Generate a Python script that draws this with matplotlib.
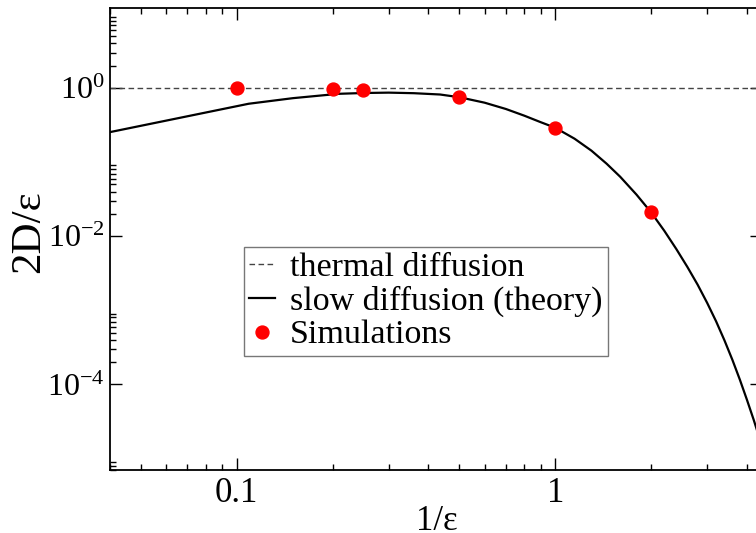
import matplotlib
matplotlib.use("Agg")
import matplotlib.pyplot as plt
from matplotlib.ticker import FixedLocator, NullFormatter

plt.rcParams['font.family'] = ['Liberation Serif', 'DejaVu Serif']
plt.rcParams['mathtext.fontset'] = 'custom'
plt.rcParams['mathtext.rm'] = 'Liberation Serif'
plt.rcParams['mathtext.it'] = 'Liberation Serif:italic'

# theory curve
theory_x = [0.04, 0.109, 0.15, 0.209, 0.25, 0.3, 0.36, 0.435, 0.5, 0.6, 0.7,
            0.8, 0.9, 1.0, 1.15, 1.3, 1.45, 1.6, 1.8, 2.0, 2.2, 2.4, 2.6, 2.8,
            3.0, 3.2, 3.4, 3.6, 3.8, 4.0, 4.2, 4.46]
theory_y = [0.254, 0.613, 0.729, 0.835, 0.856, 0.866, 0.851, 0.817, 0.751, 0.634,
            0.521, 0.423, 0.346, 0.291, 0.207, 0.1425, 0.0952, 0.0634, 0.0364,
            0.0210, 0.01186, 6.72e-3, 3.85e-3, 2.22e-3, 1.26e-3, 7.11e-4, 3.93e-4,
            2.15e-4, 1.16e-4, 6.2e-5, 3.33e-5, 1.47e-5]

# simulations
sim_x = [0.1, 0.2, 0.25, 0.5, 1.0, 2.0]
sim_y = [1.0, 0.955, 0.93, 0.75, 0.29, 0.0213]

# thermal diffusion level
thermal_x = [0.04, 4.46]
thermal_y = [1.0, 1.0]

W, H = 756, 533
fig = plt.figure(figsize=(W / 100, H / 100), dpi=100)
left, right, top, bottom = 110, 762, 7.5, 470
ax = fig.add_axes([left / W, (H - bottom) / H, (right - left) / W, (bottom - top) / H])

ax.plot(thermal_x, thermal_y, ls=(0, (4.0, 2.5)), color='#444444', lw=1.0,
        label='thermal diffusion')
ax.plot(theory_x, theory_y, color='black', lw=1.6, label='slow diffusion (theory)')
ax.plot(sim_x, sim_y, 'o', color='red', ms=9.3, mec='red', label='Simulations',
        zorder=5)

ax.set_xscale('log')
ax.set_yscale('log')
ax.set_xlim(0.04, 4.46)
ax.set_ylim(7.0e-6, 12.2)

ax.xaxis.set_major_locator(FixedLocator([0.1, 1]))
ax.set_xticklabels(['0.1', '1'])
xminor = [k * 10.0 ** d for d in (-2, -1, 0) for k in range(2, 10)]
ax.xaxis.set_minor_locator(FixedLocator(xminor))
ax.xaxis.set_minor_formatter(NullFormatter())

ax.yaxis.set_major_locator(FixedLocator([1e-4, 1e-2, 1e0]))
ax.set_yticklabels([r'$10^{-4}$', r'$10^{-2}$', r'$10^{0}$'])
yminor = [k * 10.0 ** d for d in (-6, -4, -2, 0) for k in range(2, 10)]
ax.yaxis.set_minor_locator(FixedLocator(yminor))
ax.yaxis.set_minor_formatter(NullFormatter())

ax.tick_params(which='both', direction='in', top=True, right=True, width=1.0)
ax.tick_params(which='major', length=8.6)
ax.tick_params(axis='x', which='major', pad=5, labelsize=25)
ax.tick_params(axis='y', which='major', pad=3.6, labelsize=23)
ax.tick_params(which='minor', length=4.3)
for s in ax.spines.values():
    s.set_linewidth(1.3)

ax.set_xlabel('1/ε', fontsize=25)
ax.set_ylabel('2D/ε', fontsize=31)
ax.xaxis.set_label_coords((437 - left) / (right - left), (bottom - 505) / (bottom - top))
ax.yaxis.set_label_coords((48.5 - left) / (right - left), (bottom - 232) / (bottom - top))

leg = ax.legend(loc='upper left', bbox_to_anchor=((244 - left) / (right - left),
                (bottom - 247) / (bottom - top)), borderaxespad=0,
                fontsize=24.5, frameon=True, fancybox=False, handlelength=0.75,
                handletextpad=0.45, labelspacing=0.08, borderpad=0.15,
                markerscale=1.0)
leg.get_frame().set_edgecolor('#555555')
leg.get_frame().set_linewidth(1.0)

fig.savefig('out.png', dpi=100)
